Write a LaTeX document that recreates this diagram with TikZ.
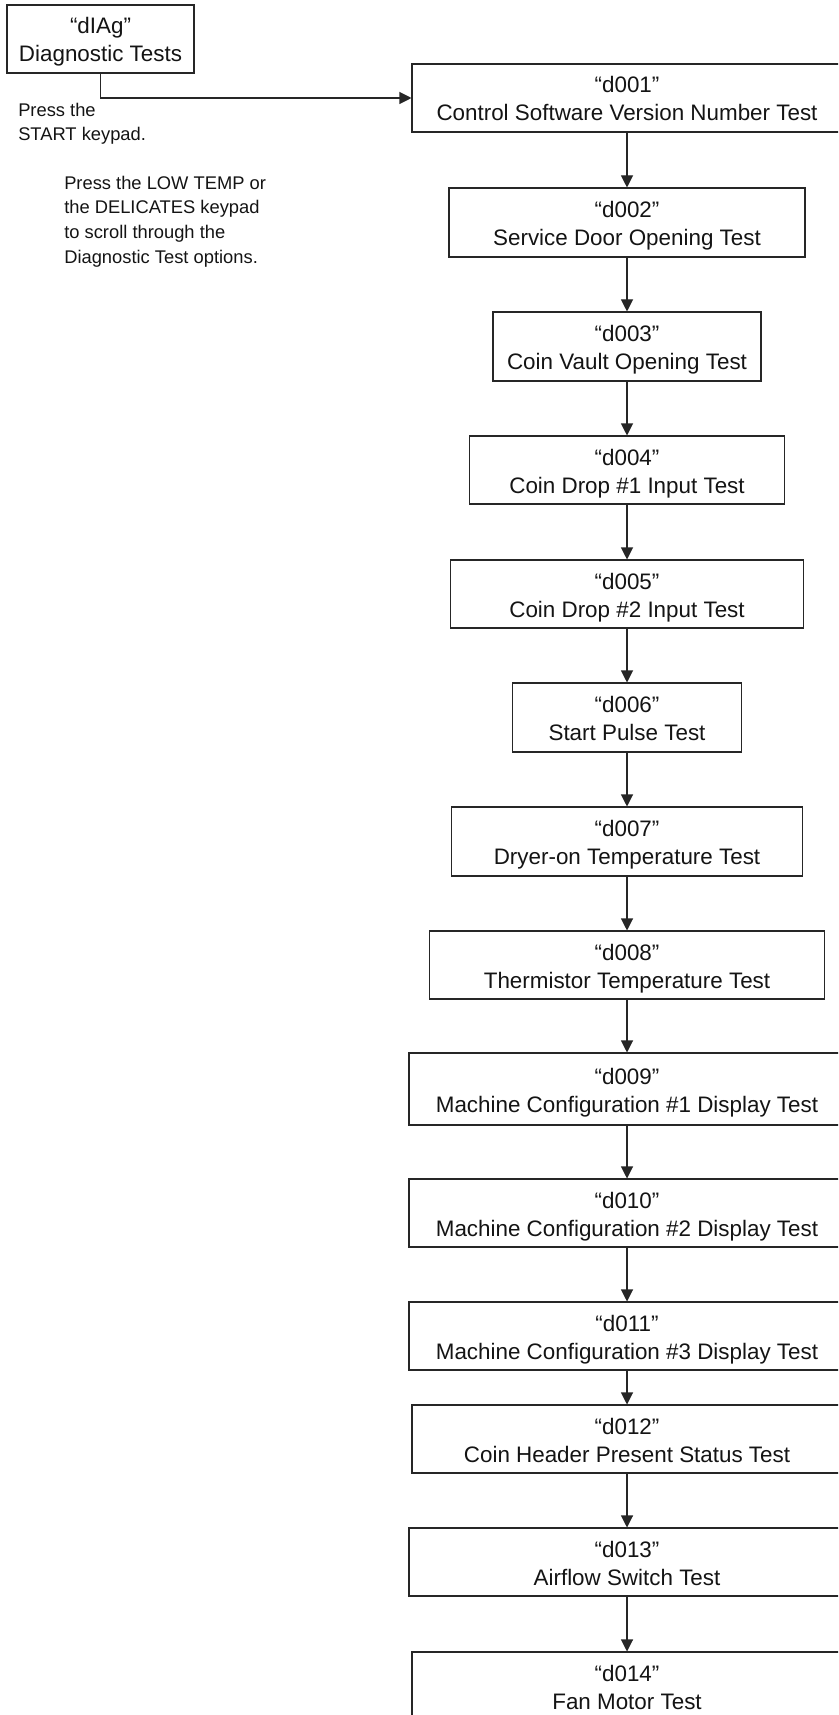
\documentclass[tikz,border=0pt]{standalone}
\usepackage{fontspec}
\setmainfont{Liberation Sans}
\usetikzlibrary{arrows.meta}
\newcommand{\boxtxt}[2]{\rule{0pt}{17pt}#1\\#2\rule[-3.5pt]{0pt}{3.5pt}}
\begin{document}
\begin{tikzpicture}[x=0.75pt,y=-0.75pt,
  testbox/.style={draw=black!85, line width=0.8pt, inner sep=0pt, align=center,
    text=black!92, font=\fontsize{16.8pt}{21pt}\selectfont, minimum height=51pt},
  note/.style={inner sep=0pt, align=left, anchor=north west, text=black!92,
    font=\fontsize{13.75pt}{18.5pt}\selectfont},
  arr/.style={draw=black!85, line width=0.8pt, -{Triangle[length=9pt,width=9pt]}}]
\useasboundingbox (0,0) rectangle (838,1715);
\clip (0,0) rectangle (838,1715);
\fill[white] (0,0) rectangle (838,1715);

\node[testbox, minimum width=140.25pt] (diag) at (100.5,39) {\boxtxt{“dIAg”}{Diagnostic Tests}};

\node[note] (n1) at (18,100) {\rule{0pt}{12pt}Press the\\START keypad.};
\node[note] (n2) at (64,173) {\rule{0pt}{12pt}Press the LOW TEMP or\\the DELICATES keypad\\to scroll through the\\Diagnostic Test options.};

\node[testbox, minimum width=322.5pt] (d1) at (627,98) {\boxtxt{“d001”}{Control Software Version Number Test}};
\node[testbox, minimum width=267pt, minimum height=51.75pt] (d2) at (627,222.5) {\boxtxt{“d002”}{Service Door Opening Test}};
\node[testbox, minimum width=201pt, minimum height=51.75pt] (d3) at (627,346.5) {\boxtxt{“d003”}{Coin Vault Opening Test}};
\node[testbox, minimum width=236.25pt] (d4) at (627,470) {\boxtxt{“d004”}{Coin Drop \#1 Input Test}};
\node[testbox, minimum width=264.75pt] (d5) at (627,594) {\boxtxt{“d005”}{Coin Drop \#2 Input Test}};
\node[testbox, minimum width=171.75pt, minimum height=51.75pt] (d6) at (627,717.5) {\boxtxt{“d006”}{Start Pulse Test}};
\node[testbox, minimum width=263.25pt, minimum height=51.75pt] (d7) at (627,841.5) {\boxtxt{“d007”}{Dryer-on Temperature Test}};
\node[testbox, minimum width=296.25pt] (d8) at (627,965) {\boxtxt{“d008”}{Thermistor Temperature Test}};
\node[testbox, minimum width=327pt, minimum height=54pt] (d9) at (627,1089) {\boxtxt{“d009”}{Machine Configuration \#1 Display Test}};
\node[testbox, minimum width=327pt] (d10) at (627,1213) {\boxtxt{“d010”}{Machine Configuration \#2 Display Test}};
\node[testbox, minimum width=327pt] (d11) at (627,1336) {\boxtxt{“d011”}{Machine Configuration \#3 Display Test}};
\node[testbox, minimum width=322.5pt] (d12) at (627,1439) {\boxtxt{“d012”}{Coin Header Present Status Test}};
\node[testbox, minimum width=327pt] (d13) at (627,1562) {\boxtxt{“d013”}{Airflow Switch Test}};
\node[testbox, minimum width=322.5pt] (d14) at (627,1686) {\boxtxt{“d014”}{Fan Motor Test}};

\draw[arr] (diag.south) |- (d1.west);
\foreach \a/\b in {d1/d2,d2/d3,d3/d4,d4/d5,d5/d6,d6/d7,d7/d8,d8/d9,d9/d10,d10/d11,d11/d12,d12/d13,d13/d14}
  \draw[arr] (\a.south) -- (\a.south |- \b.north);
\end{tikzpicture}
\end{document}
